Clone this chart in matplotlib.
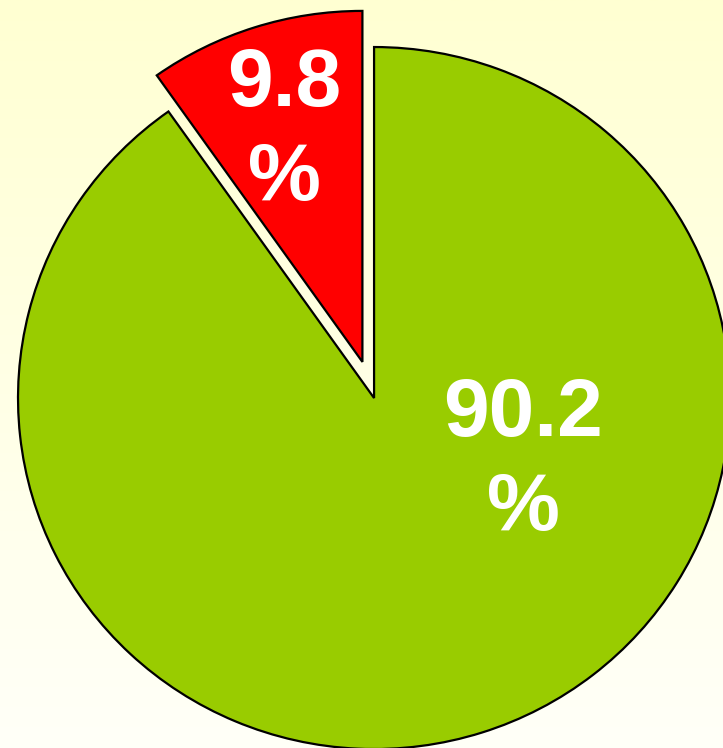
import numpy as np
import matplotlib.pyplot as plt
from matplotlib.colors import LinearSegmentedColormap

# slice data
shares = [9.8, 90.2]
labels = ["9.8\n%", "90.2\n%"]
colors = ["#FF0000", "#99CC00"]

fig = plt.figure(figsize=(7.23, 7.48), dpi=100)
ax = fig.add_axes([0, 0, 1, 1])

wedges, _ = ax.pie(shares, colors=colors, startangle=90, counterclock=True,
                   explode=[0.108, 0], radius=1.0,
                   wedgeprops=dict(edgecolor="black", linewidth=1.6))

# visible window (pie is cut on the right and bottom, a bit wider than tall)
x0, x1 = -1.0506, 0.980
y0, y1 = -0.997, 1.134
ax.set_aspect("auto")
ax.set_xlim(x0, x1)
ax.set_ylim(y0, y1)
ax.axis("off")

# background gradient, light yellow on top fading downwards
cmap = LinearSegmentedColormap.from_list("bg", ["#FFFFF8", "#FFFFD2"])
grad = np.linspace(0, 1, 256).reshape(-1, 1)
ax.imshow(grad, cmap=cmap, extent=[x0, x1, y0, y1], origin="lower",
          aspect="auto", zorder=0)

for w in wedges:
    w.set_zorder(2)

txt = dict(color="white", fontsize=59, fontweight="bold", ha="center",
           va="center", family="Liberation Sans", linespacing=1.31, zorder=3)
ax.text(-0.253, 0.758, labels[0], **txt)
ax.text(0.419, -0.182, labels[1], **txt)

fig.savefig("out.png", dpi=100)
